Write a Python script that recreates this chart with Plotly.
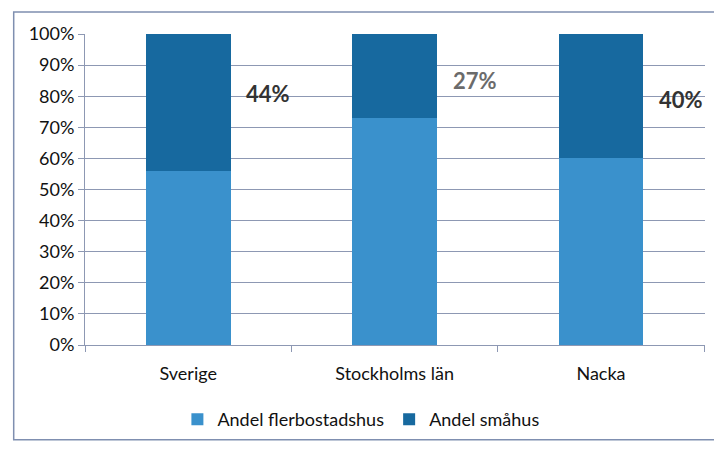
import plotly.graph_objects as go

kategorier = ['Sverige', 'Stockholms län', 'Nacka']
flerbostadshus = [0.56, 0.73, 0.60]
smahus = [0.44, 0.27, 0.40]
etiketter = ['44%', '27%', '40%']
etikett_y = [0.81, 0.85, 0.79]
etikett_farg = ['#333333', '#6b6b6b', '#333333']
y_ticks = [i / 10 for i in range(11)]

fig = go.Figure()
fig.add_trace(go.Bar(
    x=kategorier,
    y=flerbostadshus,
    name='Andel flerbostadshus',
    marker=dict(color='#3a91cc', line=dict(width=0)),
    width=0.41
))
fig.add_trace(go.Bar(
    x=kategorier,
    y=smahus,
    name='Andel småhus',
    marker=dict(color='#17699f', line=dict(width=0)),
    width=0.41
))

for k, t, yy, c in zip(kategorier, etiketter, etikett_y, etikett_farg):
    fig.add_annotation(
        x=k, y=yy, text=f'<b>{t}</b>', showarrow=False,
        xanchor='left', xshift=56,
        font=dict(size=22, color=c)
    )

# ram runt diagrammet (inskannad)
fig.add_shape(type='rect', xref='paper', yref='paper',
              x0=-0.115, x1=1.05, y0=-0.305, y1=1.071,
              line=dict(color='#7f8fb0', width=1.5))

# sidan har 8px marginal i webbläsaren, därför lite mindre marginal uppe/vänster
fig.update_layout(
    barmode='stack',
    width=722, height=450,
    margin=dict(l=77, r=25, t=26, b=113),
    paper_bgcolor='white',
    plot_bgcolor='white',
    font=dict(family='Lato', size=18, color='#111111'),
    showlegend=True,
    legend=dict(orientation='h', x=0.445, xanchor='center', y=-0.18, yanchor='top',
                font=dict(size=18), traceorder='normal', itemwidth=30,
                bgcolor='rgba(0,0,0,0)'),
    xaxis=dict(
        showline=True, linecolor='#8d98b3', linewidth=1,
        ticks='outside', tickson='boundaries', ticklen=6, tickcolor='#8d98b3',
        showgrid=False, tickfont=dict(size=18), ticklabelstandoff=12
    ),
    yaxis=dict(
        range=[0, 1], tickvals=y_ticks, tickformat='.0%',
        showline=True, linecolor='#8d98b3', linewidth=1,
        ticks='outside', ticklen=6, tickcolor='#8d98b3',
        showgrid=True, gridcolor='#8d98b3', gridwidth=1,
        zeroline=False, tickfont=dict(size=18)
    ),
)

fig.write_html('out.html')
